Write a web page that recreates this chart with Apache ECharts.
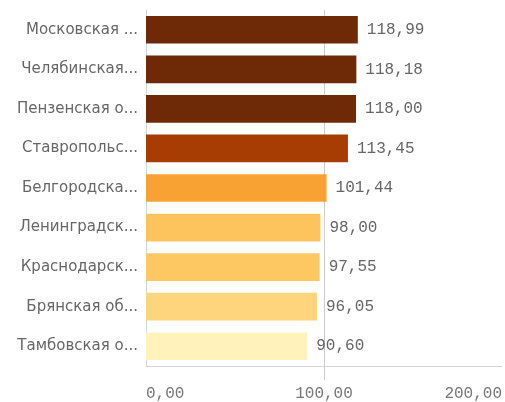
<!DOCTYPE html>
<html><head><meta charset="utf-8">
<script src="https://cdn.jsdelivr.net/npm/echarts@6/dist/echarts.min.js"></script>
<style>html,body{margin:0;padding:0;background:#fff}#c{width:505px;height:402px}</style>
</head><body><div id="c"></div>
<script>
var categories = ["Московская ...", "Челябинская...", "Пензенская о...", "Ставропольс...", "Белгородска...", "Ленинградск...", "Краснодарск...", "Брянская об...", "Тамбовская о..."];
var values = [118.99, 118.18, 118.00, 113.45, 101.44, 98.00, 97.55, 96.05, 90.60];
var barColors = ["#6e2a06", "#6e2a06", "#6e2a06", "#a83d04", "#f8a233", "#fdc35c", "#fdc862", "#fed47d", "#fff3bb"];
var xTicks = [0, 100, 200];
function fmt(v){ return v.toFixed(2).replace('.', ','); }
var chart = echarts.init(document.getElementById('c'), null, {renderer:'canvas'});
chart.setOption({
  animation: false,
  grid: {left: 146, right: -2, top: 10, bottom: 35, containLabel: false},
  xAxis: {
    type: 'value', min: xTicks[0], max: xTicks[xTicks.length-1], interval: 100,
    axisLine: {show: true, lineStyle: {color: '#d4d4d4'}},
    axisTick: {show: true, customValues: [100], length: 14, lineStyle: {color: '#cccccc'}},
    splitLine: {show: true, lineStyle: {color: '#cccccc'}},
    axisLabel: {
      formatter: fmt, color: '#777', fontFamily: 'Liberation Mono', fontSize: 16,
      margin: 20, alignMinLabel: 'left', alignMaxLabel: 'right'
    }
  },
  yAxis: {
    type: 'category', data: categories, inverse: true,
    axisLine: {show: true, lineStyle: {color: '#cdd5df'}},
    axisTick: {show: false},
    axisLabel: {color: '#666666', fontFamily: 'DejaVu Sans', fontSize: 15, margin: 8}
  },
  series: [{
    type: 'bar',
    data: values.map(function(v, i){ return {value: v, itemStyle: {color: barColors[i]}}; }),
    barCategoryGap: '30%',
    label: {
      show: true, position: 'right', distance: 9,
      formatter: function(p){ return fmt(p.value); },
      color: '#666', fontFamily: 'Liberation Mono', fontSize: 16
    }
  }]
});
</script></body></html>
